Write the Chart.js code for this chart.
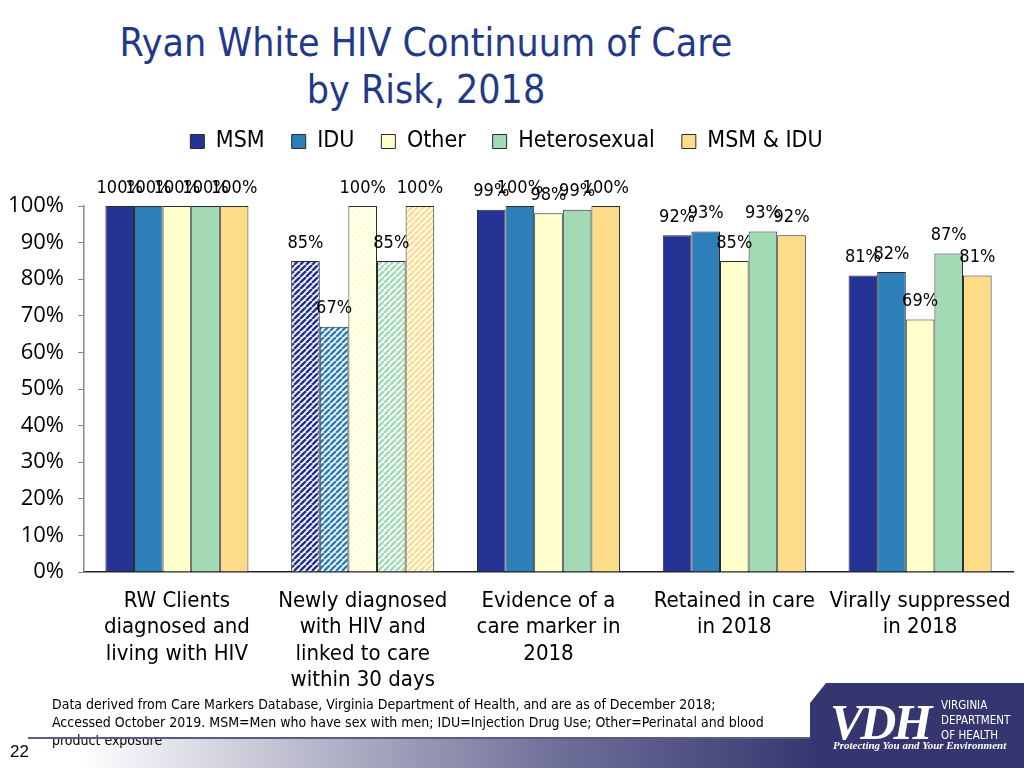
<!DOCTYPE html>
<html><head><meta charset="utf-8">
<script src="https://cdn.jsdelivr.net/npm/chart.js@4.4.0/dist/chart.umd.min.js"></script>
<style>
html,body{margin:0;padding:0;background:#fff;}
body{width:1024px;height:768px;position:relative;overflow:hidden;font-family:"DejaVu Sans Condensed","DejaVu Sans",sans-serif;}
#title{position:absolute;left:0;top:19px;width:852px;text-align:center;color:#1F3A88;font-size:39px;line-height:47px;}
#wrap{position:absolute;left:0;top:103px;width:1024px;height:594px;}
#note{position:absolute;left:52px;top:695px;font-size:14px;line-height:18px;color:#000;white-space:nowrap;z-index:2;}
#rule{position:absolute;left:28px;top:737px;width:800px;height:2px;background:#5b5c86;z-index:3;}
#band{position:absolute;left:0;top:739px;width:1024px;height:29px;background:linear-gradient(to right,#ffffff 8%,#b9b9cc 30%,#6d6e98 55%,#35366f 80%);z-index:1;}
#logo{position:absolute;left:810px;top:683px;width:214px;height:85px;background:#35366F;clip-path:polygon(16px 0,100% 0,100% 100%,0 100%,0 20px);z-index:4;}
#vdh{position:absolute;left:830px;top:697px;color:#fff;font-family:"Liberation Serif",serif;font-style:italic;font-weight:bold;font-size:50px;line-height:50px;letter-spacing:-3px;z-index:5;}
#vdh2{position:absolute;left:941px;top:698px;color:#fff;font-family:"DejaVu Sans Condensed",sans-serif;font-size:11.5px;line-height:15px;z-index:5;}
#tag{position:absolute;left:833px;top:739px;color:#fff;font-family:"Liberation Serif",serif;font-style:italic;font-weight:bold;font-size:11px;z-index:5;}
#page{position:absolute;left:10px;top:742px;font-family:"Liberation Sans",sans-serif;font-size:17px;color:#000;z-index:5;}
</style></head>
<body>
<div id="title">Ryan White HIV Continuum of Care<br>by Risk, 2018</div>
<div id="wrap"><canvas id="c"></canvas></div>
<div id="note">Data derived from Care Markers Database, Virginia Department of Health, and are as of December 2018;<br>Accessed October 2019. MSM=Men who have sex with men; IDU=Injection Drug Use; Other=Perinatal and blood<br>product exposure</div>
<div id="band"></div>
<div id="rule"></div>
<div id="logo"></div>
<div id="vdh">VDH</div>
<div id="vdh2">VIRGINIA<br>DEPARTMENT<br>OF HEALTH</div>
<div id="tag">Protecting You and Your Environment</div>
<div id="page">22</div>
<script>
const categories = [
  ["RW Clients","diagnosed and","living with HIV"],
  ["Newly diagnosed","with HIV and","linked to care","within 30 days"],
  ["Evidence of a","care marker in","2018"],
  ["Retained in care","in 2018"],
  ["Virally suppressed","in 2018"]
];
const seriesNames = ["MSM","IDU","Other","Heterosexual","MSM & IDU"];
const msm    = [100, 85, 99, 92, 81];
const idu    = [100, 67, 100, 93, 82];
const other  = [100, 100, 98, 85, 69];
const hetero = [100, 85, 99, 93, 87];
const msmIdu = [100, 100, 100, 92, 81];
const yTicks = [0,10,20,30,40,50,60,70,80,90,100];

const colors = ["#253494","#2C7FB8","#FFFFCC","#A1DAB4","#FDDC89"];
const hatchedIndex = 1;

function hatch(color){
  const s = 6;
  const c = document.createElement('canvas'); c.width = s; c.height = s;
  const g = c.getContext('2d');
  g.fillStyle = '#ffffff'; g.fillRect(0,0,s,s);
  g.strokeStyle = color; g.lineWidth = 2.6;
  g.beginPath();
  for (let k=-1;k<=1;k++){ g.moveTo(k*s, s); g.lineTo(k*s+s, 0); }
  g.stroke();
  return g.createPattern(c,'repeat');
}

const values = [msm, idu, other, hetero, msmIdu];
const datasets = values.map((arr,i)=>({
  label: seriesNames[i],
  data: arr,
  backgroundColor: arr.map((v,j)=> j===hatchedIndex ? hatch(colors[i]) : colors[i]),
  borderColor: '#2a2a2a',
  borderWidth: 1,
  categoryPercentage: 0.77,
  barPercentage: 1.0
}));

const FONT = '"DejaVu Sans Condensed","DejaVu Sans",sans-serif';

const valueLabels = {
  id:'valueLabels',
  afterDatasetsDraw(chart){
    const ctx = chart.ctx; ctx.save();
    ctx.font = '18px ' + FONT; ctx.fillStyle = '#000';
    ctx.textAlign = 'center'; ctx.textBaseline = 'middle';
    chart.data.datasets.forEach((ds,i)=>{
      chart.getDatasetMeta(i).data.forEach((bar,j)=>{
        ctx.fillText(Math.round(ds.data[j]) + '%', bar.x, bar.y - 18);
      });
    });
    ctx.restore();
  }
};
const legendHeight = {
  id:'legendHeight',
  beforeLayout(chart){
    const lg = chart.legend;
    if (lg && !lg._patched){
      const f = lg.fit;
      lg.fit = function(){ f.call(this); this.height = 103; };
      lg._patched = true;
    }
  }
};

new Chart(document.getElementById('c'), {
  type:'bar',
  data:{ labels: categories, datasets },
  plugins:[legendHeight, valueLabels],
  options:{
    responsive:true, maintainAspectRatio:false, animation:false,
    layout:{ padding:{ left:0, right:11, top:0, bottom:0 } },
    plugins:{
      tooltip:{enabled:false},
      legend:{
        position:'top', align:'center',
        labels:{ boxWidth:14, boxHeight:14, padding:27, color:'#000',
          font:{ family:FONT, size:23 } }
      }
    },
    scales:{
      x:{
        grid:{ display:false, drawTicks:false },
        border:{ display:true, color:'#222', width:1.5 },
        ticks:{ color:'#000', padding:16, maxRotation:0, autoSkip:false,
          font:{ family:FONT, size:22, lineHeight:1.2 } },
        afterFit(s){ s.height = 125; s.paddingLeft = 0; s.paddingRight = 0; }
      },
      y:{
        min:0, max:100,
        afterBuildTicks(s){ s.ticks = yTicks.map(v=>({value:v})); },
        grid:{ display:true, drawOnChartArea:false, drawTicks:true, tickLength:6, color:'#888' },
        border:{ display:true, color:'#888', width:1.5 },
        ticks:{ color:'#000', padding:14, callback:v=>v+'%',
          font:{ family:'"Open Sans",sans-serif', size:22 } },
        afterFit(s){ s.width = 84; s.paddingTop = 0; s.paddingBottom = 0; }
      }
    }
  }
});
</script>
</body></html>
